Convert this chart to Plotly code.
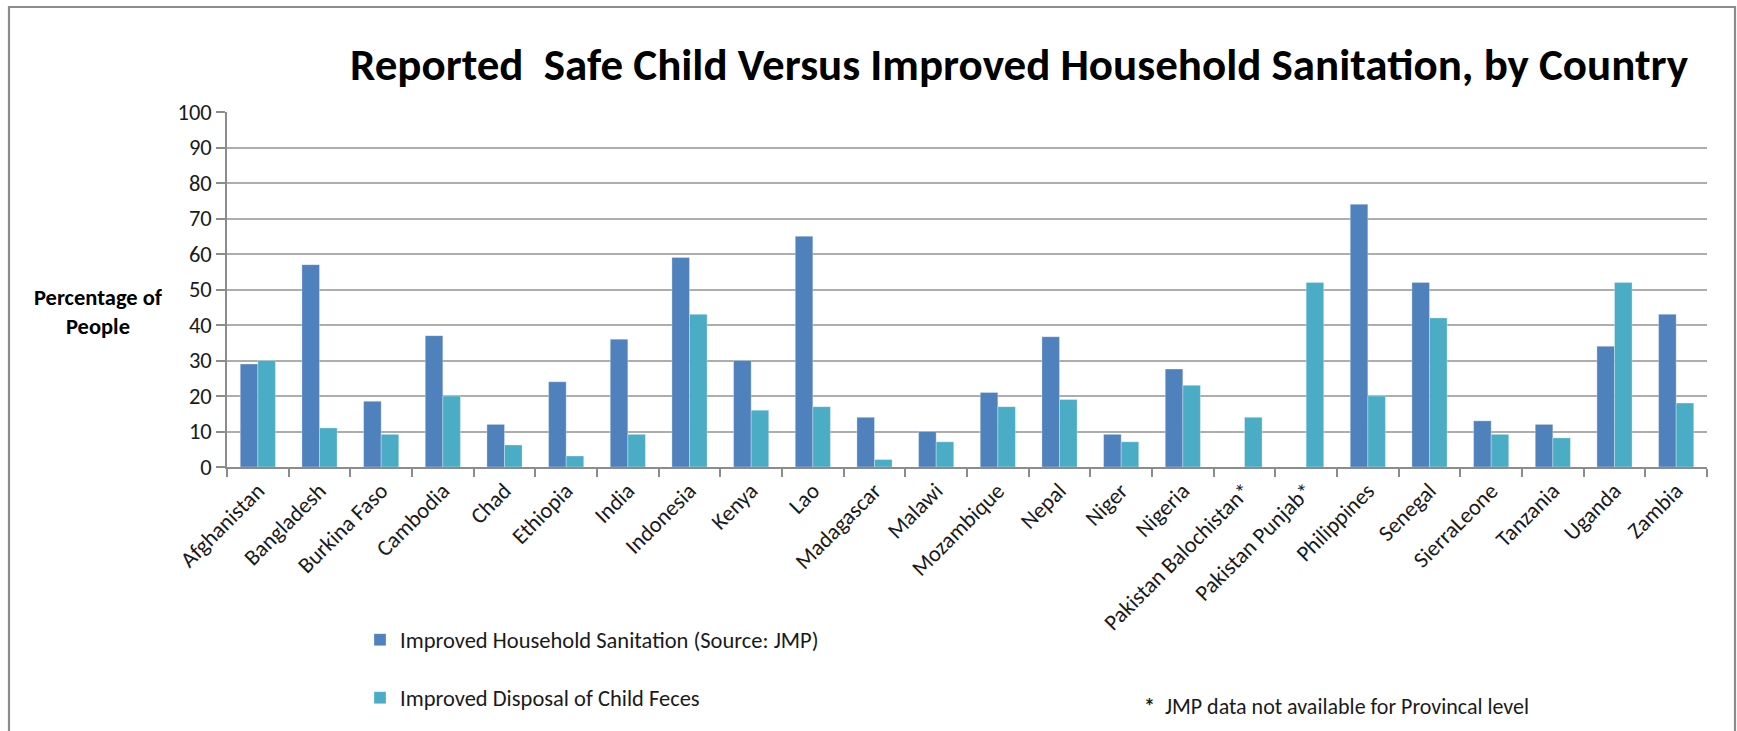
import plotly.graph_objects as go

# Country / survey area labels (x axis)
countries = [
    "Afghanistan", "Bangladesh", "Burkina Faso", "Cambodia", "Chad", "Ethiopia",
    "India", "Indonesia", "Kenya", "Lao", "Madagascar", "Malawi", "Mozambique",
    "Nepal", "Niger", "Nigeria", "Pakistan Balochistan*", "Pakistan Punjab*",
    "Philippines", "Senegal", "SierraLeone", "Tanzania", "Uganda", "Zambia",
]

# Improved household sanitation, % of people (JMP); None = not available
household_sanitation = [
    29, 57, 18.5, 37, 12, 24, 36, 59, 30, 65, 14, 10, 21, 36.7, 9.2, 27.6,
    None, None, 74, 52, 13, 12, 34, 43,
]

# Improved disposal of child feces, % of people
child_feces_disposal = [
    30, 11, 9.2, 20, 6.2, 3.1, 9.2, 43, 16, 17, 2.1, 7.1, 17, 19, 7.1, 23,
    14, 52, 20, 42, 9.2, 8.2, 52, 18,
]

series_names = [
    "Improved Household Sanitation (Source: JMP)",
    "Improved Disposal of Child Feces",
]
y_ticks = list(range(0, 101, 10))

TITLE = "Reported\u00a0 Safe Child Versus Improved Household Sanitation, by Country"
FOOTNOTE = "<b>*</b>  JMP data not available for Provincal level"

FONT = "Calibri, Carlito, Lato, sans-serif"
BLUE = "#4F81BD"
TEAL = "#4BACC6"
GRID = "#ADADAD"
AXIS = "#8C8C8C"

W, H = 1737, 731
PL, PR, PT, PB = 227, 1707, 112, 467  # plot area in pixels


def px_x(p):
    return (p - PL) / (PR - PL)


def px_y(p):
    return (PB - p) / (PB - PT)


fig = go.Figure()
fig.add_trace(go.Bar(
    x=countries, y=household_sanitation, name=series_names[0],
    marker=dict(color=BLUE, line=dict(color="rgba(255,255,255,0.5)", width=0.6)),
    legend="legend",
))
fig.add_trace(go.Bar(
    x=countries, y=child_feces_disposal, name=series_names[1],
    marker=dict(color=TEAL, line=dict(color="rgba(255,255,255,0.5)", width=0.6)),
    legend="legend2",
))

fig.update_layout(
    width=W, height=H,
    margin=dict(l=PL, r=W - PR, t=PT, b=H - PB, autoexpand=False),
    paper_bgcolor="white", plot_bgcolor="white",
    barmode="group", bargap=0.43, bargroupgap=0,
    font=dict(family=FONT, size=22, color="#1a1a1a"),
    title=dict(
        text=f"<b>{TITLE}</b>",
        font=dict(family=FONT, size=45, color="#000000"),
        xref="container", yref="container",
        x=1019 / W, xanchor="center", y=1 - 64 / H, yanchor="middle",
    ),
    xaxis=dict(
        type="category", tickangle=-45, tickfont=dict(size=22.5),
        showline=True, linecolor=AXIS, linewidth=1.5,
        ticks="outside", tickson="boundaries", ticklen=8,
        tickcolor=AXIS, tickwidth=1.5, showgrid=False,
    ),
    yaxis=dict(
        range=[0, 100], tickvals=y_ticks, tickfont=dict(size=22.5),
        showline=True, linecolor=AXIS, linewidth=1.5,
        ticks="outside", ticklen=9, tickcolor=AXIS, tickwidth=1.5,
        showgrid=True, gridcolor=GRID, gridwidth=1.8, zeroline=False,
    ),
    legend=dict(
        xref="container", yref="container",
        x=360 / W, xanchor="left", y=1 - 640 / H, yanchor="middle",
        font=dict(size=22.5), bgcolor="rgba(0,0,0,0)",
    ),
    legend2=dict(
        xref="container", yref="container",
        x=360 / W, xanchor="left", y=1 - 698 / H, yanchor="middle",
        font=dict(size=22.5), bgcolor="rgba(0,0,0,0)",
    ),
    showlegend=True,
)

# Y-axis caption
fig.add_annotation(
    text="<b>Percentage of<br>People</b>",
    xref="paper", yref="paper", x=px_x(98), y=px_y(312),
    xanchor="center", yanchor="middle", showarrow=False,
    font=dict(family=FONT, size=22.5, color="#000000"), align="center",
)

# Footnote
fig.add_annotation(
    text=FOOTNOTE,
    xref="paper", yref="paper", x=px_x(1142), y=px_y(706),
    xanchor="left", yanchor="middle", showarrow=False,
    font=dict(family=FONT, size=22, color="#1a1a1a"),
)

# Chart frame
fig.add_shape(
    type="rect", xref="paper", yref="paper",
    x0=px_x(9), x1=px_x(1735), y0=px_y(760), y1=px_y(7),
    line=dict(color="#8C8C8C", width=2.2), fillcolor="rgba(0,0,0,0)", layer="below",
)

fig.write_html("out.html")
